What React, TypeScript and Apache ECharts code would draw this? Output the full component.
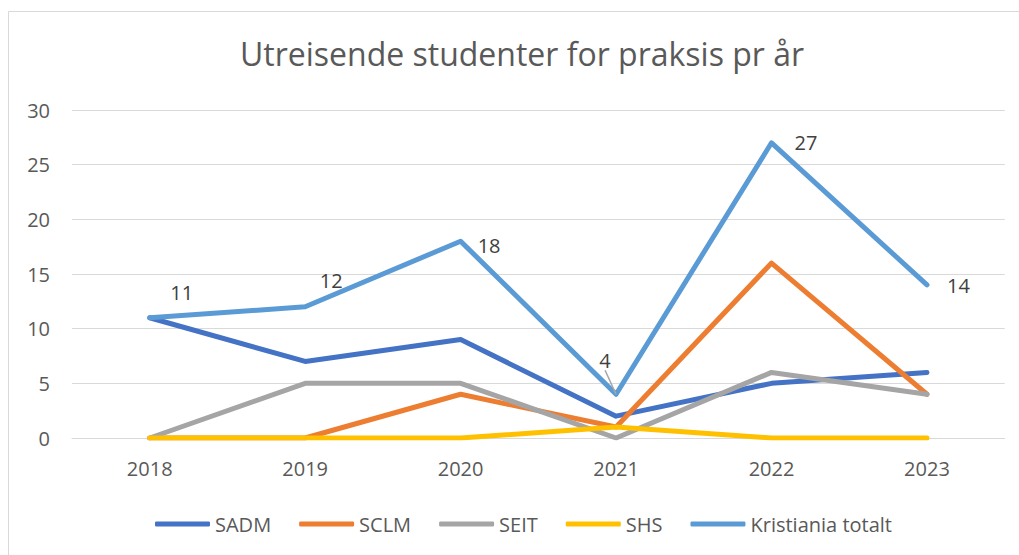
import React, { useEffect, useRef } from "react";
import * as echarts from "echarts";

const years = ["2018", "2019", "2020", "2021", "2022", "2023"];
const sadm = [11, 7, 9, 2, 5, 6];
const sclm = [0, 0, 4, 1, 16, 4];
const seit = [0, 5, 5, 0, 6, 4];
const shs = [0, 0, 0, 1, 0, 0];
const totalt = [11, 12, 18, 4, 27, 14];
const seriesNames = ["SADM", "SCLM", "SEIT", "SHS", "Kristiania totalt"];
const colors = ["#4472C4", "#ED7D31", "#A5A5A5", "#FFC000", "#5B9BD5"];
const titleText = "Utreisende studenter for praksis pr år";

const FONT = "'Open Sans', 'Noto Sans', sans-serif";

// label nudges (dx, dy) per total point, relative to the default label spot
const labelNudges: [number, number][] = [
  [32, -10],
  [26, -11],
  [0, 4],
  [-11, -19],
  [6, 0],
  [3, 1],
];

export default function App() {
  const ref = useRef<HTMLDivElement>(null);
  useEffect(() => {
    if (!ref.current) return;
    const chart = echarts.init(ref.current, undefined, { renderer: "svg" });
    const base = (name: string, data: any[], color: string) => ({
      name,
      type: "line",
      data,
      showSymbol: false,
      symbol: "none",
      lineStyle: { color, width: 5, cap: "round", join: "round" },
      itemStyle: { color },
      emphasis: { disabled: true },
    });
    const totalData = totalt.map((v, i) => {
      if (i === 0 || i === 1) {
        return { value: v, label: { position: "top" } };
      }
      if (i === 3) {
        return { value: v, label: { position: "top" }, labelLine: { show: true } };
      }
      return { value: v, label: { position: "right", distance: 17 } };
    });
    chart.setOption({
      animation: false,
      backgroundColor: "#ffffff",
      textStyle: { fontFamily: FONT },
      title: {
        text: titleText,
        left: 517,
        textAlign: "center",
        top: 32,
        textStyle: { fontFamily: FONT, fontSize: 32, fontWeight: "normal", color: "#595959" },
      },
      graphic: [
        {
          type: "rect",
          shape: { x: 8.5, y: 11.5, width: 1100, height: 600 },
          style: { fill: "none", stroke: "#d9d9d9", lineWidth: 1 },
          silent: true,
        },
      ],
      legend: {
        left: 150,
        top: 509,
        itemWidth: 55,
        itemHeight: 5,
        itemGap: 28,
        icon: "roundRect",
        data: seriesNames,
        textStyle: { fontFamily: FONT, fontSize: 20, color: "#595959" },
      },
      grid: { left: 72, right: 14.3, top: 110, bottom: 117, containLabel: false },
      xAxis: {
        type: "category",
        data: years,
        boundaryGap: true,
        axisTick: { show: false },
        axisLine: { lineStyle: { color: "#d9d9d9", width: 1 } },
        axisLabel: { fontFamily: FONT, fontSize: 20, color: "#595959", margin: 20 },
      },
      yAxis: {
        type: "value",
        min: 0,
        max: 30,
        interval: 5,
        axisLine: { show: false },
        axisTick: { show: false },
        splitLine: { lineStyle: { color: "#d9d9d9", width: 1 } },
        axisLabel: { fontFamily: FONT, fontSize: 20, color: "#595959", margin: 22 },
      },
      series: [
        base(seriesNames[0], sadm, colors[0]),
        base(seriesNames[1], sclm, colors[1]),
        base(seriesNames[2], seit, colors[2]),
        base(seriesNames[3], shs, colors[3]),
        {
          ...base(seriesNames[4], totalData, colors[4]),
          showSymbol: true,
          symbol: "circle",
          symbolSize: 0.1,
          label: {
            show: true,
            fontFamily: FONT,
            fontSize: 20,
            color: "#404040",
          },
          labelLine: { show: false, lineStyle: { color: "#a6a6a6", width: 1.5 } },
          labelLayout: (p: any) => {
            const n = labelNudges[p.dataIndex] || [0, 0];
            return { dx: n[0], dy: n[1] };
          },
        },
      ],
    });
    return () => chart.dispose();
  }, []);
  return (
    <div
      ref={ref}
      style={{ position: "fixed", left: 0, top: 0, width: 1019, height: 555, background: "#fff" }}
    />
  );
}
